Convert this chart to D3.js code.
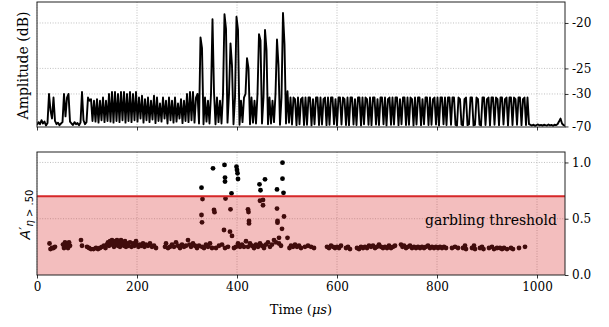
<!DOCTYPE html>
<html><head><meta charset="utf-8">
<script src="https://cdn.jsdelivr.net/npm/d3@7"></script>
<style>
html,body{margin:0;padding:0;background:#fff;}
text{font-family:"DejaVu Serif",serif;}
</style></head>
<body><svg id="c" width="609" height="327"></svg>
<script>
// ---------------- DATA ----------------
const timeTicks = [0, 200, 400, 600, 800, 1000];
const ampTickDb = [-20, -25, -30, -70];
const ampTickLabels = ["-20", "-25", "-30", "-70"];
const scoreTicks = [0.0, 0.5, 1.0];
const scoreTickLabels = ["0.0", "0.5", "1.0"];
const threshold = 0.7;
const sampleStep = 3; // µs between trace samples

// trace (dB), segment start times in µs
const preStart = 0;
const preDb = [
 -55,-47,-52,-44,-50,-46,-58,-49,
 -30,-36,-42,-31,-45,
 -52,-48,-56,-50,-47,
 -30,-40,-31,-30,-46,
 -50,-55,-47,-52,-49,-57,-48,
 -29.5,-44,-52,-47,-31,-32,-31.5,-45,
 -32,-46,-31.5,-48,-32,-44,-31,-47,-32,-45,
 -30,-46,-29.5,-48,-29.5,-45,-30,-47,-29.5,-44,-29.5,-48,-30,-45,-29.5,-47,-30,-44,-29.5,
 -46,-31,-42,-30.5,-48,-31.5,-44,-31,-47,-32,-43,-30.5,-49,-31,-45,-33,-46,-31,-42,-32,-50,-31,
 -44,-32,-48,-31,-46,-33,-42,-31.5,-49,-32,-45,-30,-47,-29.5,-44,-29.5,-48,-31
];
const burstStart = 321;
const burstDb = [
 -30,-50,-21.3,-22.4,-52,-31,-46,-32,-50,-30,
 -19.7,-29.5,-52,-31,-47,-32,-50,-30,
 -19.3,-20.5,-48,-30,-21.9,-24.6,-52,-31,
 -19.5,-20.6,-54,-32,-47,-31,-30,
 -23.6,-25,-52,-31,-48,-32,-50,-30,
 -21,-21.6,-50,-31,
 -20.6,-22.6,-52,-31,-50,-32,-47,-30,
 -21.5,-24.6,-54,-31,
 -19.2,-22,-50,-29.3,-48
];
const postStart = 507;
const postDb = [
 -31,-53, -31,-31.5,-56, -31,-52, -31.5,-31,-55, -31,-54, -31,-31,-57, -31.5,-52, -31,-31,-55, -31,-53, -31.5,-31,-56, -31,-54, -31,-31,-52, -31.5,-57, -31,-31,-53, -31,-31.5,-55,
 -31,-56, -31,-31,-53, -31.5,-55, -31,-31,-57, -31,-52, -31,-31.5,-54, -31,-56, -31,-31,-53, -31.5,-55, -31,-31,-52, -31,-57, -31.5,-31,-54, -31,-53, -31,-31,-56, -31.5,-52, -31,-31,-55, -31,-54, -31,-31.5,-57, -31,-53, -31,-31,-56, -31.5,-52, -31,-31,-55, -31,-54, -31.5,-31,-53, -31,-57, -31,-31,-52, -31,-55, -31,-31,-54,
 -31,-31,-55,-58, -31,-31.5,-54,-57, -31.5,-31,-56,-53, -31,-31,-57,-55, -31,-31.5,-54,-58,
 -31,-31,-55, -31.5,-31,-57, -31,-31,-54, -31,-31.5,-56, -31,-31,-53, -31.5,-31,-57, -31,-31,-55, -31,-31.5,-54, -31,-31,-56, -31.5,-31,-55, -31
];
const tailStart = 984;
const tailDb = [-52,-55,-58,-54,-60,-56,-53,-57,-55,-59,-54,-56,-58,-53,-57,-55,-60,-54,-56,-52,-46,-42,-50,-56,-58];

// detections (time µs, score)
const detTime = [
 25,27,30,33,36, 52,54,56,58,60,62,64,66, 88,90,
 100,104,108,113,118,122,126,130,134,137,140,
 142,144,146,148,150,152,154,156,158,160,162,164,166,168,170,172,174,176,178,180,183,186,189,192,195,198,200,
 203,206,209,212,215,218,222,226,230,234,238,
 256,258,262,266,270,274,278,282,286,290,294,298,302,305,308,312,316,320,
 324,330,334,338,342,346,350,358,364,370,376,382,394,398,402,406,410,414,418,422,426,430,434,438,442,446,450,454,458,462,466,470,474,478,484,488,
 505,508,512,516,520,524,528,536,542,548,554,580,584,588,592,596,600,604,608,618,622,626,
 640,644,648,652,656,660,664,668,672,676,680,684,688,692,696,700,704,708,712,716,
 728,731,734,738,742,746,750,754,758,762,766,770,774,778,782,786,790,794,798,802,806,810,814,818,
 830,836,842,852,856,858,870,874,876,886,890,893,904,910,914,920,926,930,934,940,948,952,964,976,
 329,352,375,376,376,389,399,400,401,402,445,447,456,480,491,491,493,
 331,329,330,354,355,374,377,386,387,390,422,423,424,424,446,452,452,480,481,481,494,490,484,501
];
const detScore = [
 0.28,0.23,0.24,0.24,0.25, 0.27,0.24,0.29,0.25,0.28,0.24,0.29,0.26, 0.31,0.26,
 0.25,0.24,0.23,0.23,0.24,0.23,0.24,0.25,0.26,0.24,0.27,
 0.29,0.26,0.30,0.27,0.31,0.28,0.25,0.30,0.27,0.31,0.26,0.29,0.25,0.31,0.27,0.29,0.26,0.30,0.25,0.28,0.26,0.29,0.25,0.28,0.26,0.30,0.27,
 0.25,0.27,0.26,0.28,0.25,0.27,0.26,0.28,0.25,0.26,0.24,
 0.25,0.28,0.24,0.25,0.27,0.25,0.29,0.26,0.24,0.27,0.25,0.26,0.31,0.27,0.25,0.28,0.26,0.24,
 0.26,0.25,0.24,0.27,0.25,0.28,0.24,0.24,0.26,0.27,0.24,0.25,0.24,0.25,0.28,0.25,0.27,0.25,0.30,0.25,0.28,0.26,0.24,0.27,0.25,0.28,0.26,0.24,0.27,0.29,0.25,0.27,0.31,0.29,0.28,0.26,
 0.24,0.26,0.25,0.27,0.25,0.26,0.24,0.25,0.26,0.25,0.24,0.25,0.24,0.26,0.25,0.24,0.25,0.24,0.26,0.24,0.25,0.23,
 0.24,0.23,0.25,0.24,0.25,0.24,0.26,0.25,0.26,0.24,0.25,0.27,0.25,0.24,0.25,0.24,0.26,0.24,0.25,0.26,
 0.27,0.25,0.26,0.24,0.25,0.26,0.24,0.25,0.24,0.25,0.24,0.25,0.24,0.25,0.26,0.24,0.25,0.24,0.25,0.24,0.25,0.24,0.25,0.24,
 0.24,0.25,0.24,0.24,0.26,0.23,0.24,0.26,0.23,0.24,0.25,0.23,0.24,0.25,0.23,0.24,0.24,0.23,0.24,0.23,0.24,0.23,0.24,0.25,
 0.776,0.948,0.978,0.866,0.83,0.726,0.963,0.933,0.904,0.853,0.806,0.753,0.85,0.76,0.998,0.856,0.73,
 0.675,0.533,0.468,0.578,0.558,0.40,0.68,0.385,0.584,0.347,0.584,0.56,0.48,0.458,0.66,0.667,0.62,0.59,0.48,0.465,0.52,0.41,0.33,0.33
];

// ---------------- DRAW ----------------
const svg = d3.select("#c");
const L = 37, R = 565;
const topY0 = 2, topY1 = 127, botY0 = 152, botY1 = 275;
const dbToAmp = d => Math.pow(10, d / 20);

const x = d3.scaleLinear().domain([0, 1056]).range([L, R]);
const yTop = d3.scaleLinear().domain([-0.0002, 0.1202]).range([topY1, topY0]);
const yBot = d3.scaleLinear().domain([0, 1.093]).range([botY1, botY0]);

const gridStyle = sel => sel.attr("stroke", "#b0b0b0").attr("stroke-width", 0.8).attr("stroke-dasharray", "1,1.6");

// build trace
const trace = [];
[[preStart, preDb], [burstStart, burstDb], [postStart, postDb], [tailStart, tailDb]].forEach(([t0, arr]) => {
  arr.forEach((v, i) => trace.push({ t: t0 + i * sampleStep, a: dbToAmp(v) }));
});

const defs = svg.append("defs");
defs.append("clipPath").attr("id", "clipTop").append("rect")
  .attr("x", L).attr("y", topY0).attr("width", R - L).attr("height", topY1 - topY0);
defs.append("clipPath").attr("id", "clipBot").append("rect")
  .attr("x", L).attr("y", botY0).attr("width", R - L).attr("height", botY1 - botY0);

// ----- top panel -----
const gT = svg.append("g");
gT.selectAll(".vg").data(timeTicks).enter().append("line")
  .attr("x1", d => x(d)).attr("x2", d => x(d)).attr("y1", topY0).attr("y2", topY1).call(gridStyle);
gT.selectAll(".hg").data(ampTickDb.slice(0, 3)).enter().append("line")
  .attr("x1", L).attr("x2", R).attr("y1", d => yTop(dbToAmp(d))).attr("y2", d => yTop(dbToAmp(d))).call(gridStyle);

gT.append("path").datum(trace)
  .attr("clip-path", "url(#clipTop)")
  .attr("fill", "none").attr("stroke", "#000").attr("stroke-width", 1.9).attr("stroke-linejoin", "round")
  .attr("d", d3.line().x(d => x(d.t)).y(d => yTop(d.a)));

gT.append("rect").attr("x", L).attr("y", topY0).attr("width", R - L).attr("height", topY1 - topY0)
  .attr("fill", "none").attr("stroke", "#222").attr("stroke-width", 1);

const axTopR = d3.axisRight(yTop).tickValues(ampTickDb.map(dbToAmp))
  .tickFormat((d, i) => ampTickLabels[i]).tickSize(3.5).tickSizeOuter(0).tickPadding(3.5);
const gaR = gT.append("g").attr("transform", `translate(${R},0)`).call(axTopR);
gaR.select(".domain").remove();

const axTopB = d3.axisBottom(x).tickValues(timeTicks).tickFormat("").tickSize(3.5).tickSizeOuter(0);
const gaTB = gT.append("g").attr("transform", `translate(0,${topY1})`).call(axTopB);
gaTB.select(".domain").remove();

gT.append("text").attr("transform", `translate(28,${(topY0 + topY1) / 2 + 1}) rotate(-90)`)
  .attr("text-anchor", "middle").attr("font-size", 14).text("Amplitude (dB)");

// ----- bottom panel -----
const gB = svg.append("g");
gB.selectAll(".vg").data(timeTicks).enter().append("line")
  .attr("x1", d => x(d)).attr("x2", d => x(d)).attr("y1", botY0).attr("y2", botY1).call(gridStyle);
gB.selectAll(".hg").data(scoreTicks.slice(1)).enter().append("line")
  .attr("x1", L).attr("x2", R).attr("y1", d => yBot(d)).attr("y2", d => yBot(d)).call(gridStyle);

const dets = detTime.map((t, i) => ({ t, s: detScore[i] }));
gB.append("g").attr("clip-path", "url(#clipBot)").selectAll("circle").data(dets).enter().append("circle")
  .attr("cx", d => x(d.t)).attr("cy", d => yBot(d.s)).attr("r", 2.4).attr("fill", "#000");

gB.append("rect").attr("x", L).attr("width", R - L)
  .attr("y", yBot(threshold)).attr("height", yBot(0) - yBot(threshold))
  .attr("fill", "#d62728").attr("fill-opacity", 0.3);
gB.append("line").attr("x1", L).attr("x2", R).attr("y1", yBot(threshold)).attr("y2", yBot(threshold))
  .attr("stroke", "#d62728").attr("stroke-width", 2.2);

gB.append("rect").attr("x", L).attr("y", botY0).attr("width", R - L).attr("height", botY1 - botY0)
  .attr("fill", "none").attr("stroke", "#222").attr("stroke-width", 1);

const axBotR = d3.axisRight(yBot).tickValues(scoreTicks)
  .tickFormat((d, i) => scoreTickLabels[i]).tickSize(3.5).tickSizeOuter(0).tickPadding(3.5);
const gbR = gB.append("g").attr("transform", `translate(${R},0)`).call(axBotR);
gbR.select(".domain").remove();

const axBotB = d3.axisBottom(x).tickValues(timeTicks).tickFormat(d => String(d))
  .tickSize(3.5).tickSizeOuter(0).tickPadding(3.5);
const gbB = gB.append("g").attr("transform", `translate(0,${botY1})`).call(axBotB);
gbB.select(".domain").remove();

svg.selectAll(".tick text").attr("font-family", "DejaVu Serif").attr("font-size", 12).attr("fill", "#000");
svg.selectAll(".tick line").attr("stroke", "#000").attr("stroke-width", 0.8);

gB.append("text").attr("x", 557).attr("y", 225).attr("text-anchor", "end")
  .attr("font-size", 14).text("garbling threshold");

const xl = gB.append("text").attr("x", (L + R) / 2).attr("y", 314).attr("text-anchor", "middle").attr("font-size", 13);
xl.append("tspan").text("Time (");
xl.append("tspan").attr("font-style", "italic").text("μs");
xl.append("tspan").text(")");

const yl = gB.append("text").attr("transform", `translate(30,${(botY0 + botY1) / 2 + 1}) rotate(-90)`)
  .attr("text-anchor", "middle").style("font-family", "DejaVu Sans");
yl.append("tspan").attr("font-style", "italic").attr("font-size", 14).text("A");
yl.append("tspan").attr("font-size", 14).attr("dy", -1).text("′");
yl.append("tspan").attr("font-style", "italic").attr("font-size", 10).attr("dy", 4).text("η");
yl.append("tspan").attr("font-size", 10).text(" > .50");
</script></body></html>
